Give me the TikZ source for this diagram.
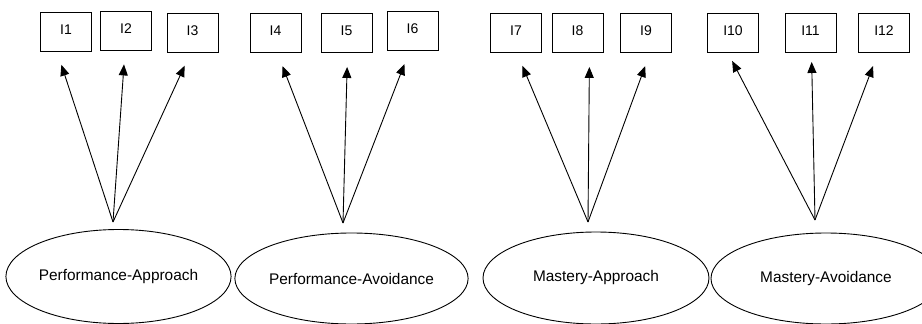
\documentclass[tikz,border=0pt]{standalone}
\usepackage{fontspec}
\setmainfont{Liberation Sans}
\usepackage{tikz}
\usetikzlibrary{shapes,arrows.meta,positioning}

\begin{document}
\begin{tikzpicture}[
    x=1pt, y=-1pt,
    box/.style={rectangle, draw, line width=0.9pt, minimum width=51pt, minimum height=39pt, inner sep=0pt, text depth=4pt, font=\fontsize{14}{16}\selectfont},
    factor/.style={ellipse, draw, line width=0.9pt, inner sep=0pt, font=\fontsize{15.4}{18}\selectfont},
    arr/.style={-{Triangle[length=11pt,width=9pt]}, line width=0.9pt, shorten >=14pt},
]
\useasboundingbox (0,0) rectangle (922,324);
\clip (0,0) rectangle (922,324);

% Indicators
\node[box] (i1) at (66,31.5) {I1};
\node[box] (i2) at (126,30.5) {I2};
\node[box] (i3) at (192.5,33) {I3};
\node[box] (i4) at (275.5,33) {I4};
\node[box] (i5) at (346.5,33) {I5};
\node[box] (i6) at (412.5,31) {I6};
\node[box] (i7) at (516,33) {I7};
\node[box] (i8) at (577.5,33) {I8};
\node[box] (i9) at (646,33) {I9};
\node[box] (i10) at (733,33) {I10};
\node[box] (i11) at (810.5,33) {I11};
\node[box] (i12) at (884,33) {I12};

% Factors
\node[factor, minimum width=217pt, minimum height=94pt] (pap) at (118.5,276.5) {Performance-Approach};
\node[factor, minimum width=227pt, minimum height=91pt] (pav) at (351.5,278.5) {Performance-Avoidance};
\node[factor, minimum width=226pt, minimum height=92pt] (map) at (596,278) {Mastery-Approach};
\node[factor, minimum width=230pt, minimum height=91pt] (mav) at (826,278.5) {Mastery-Avoidance};

% Arrow origins
\coordinate (papo) at (113,222);
\coordinate (pavo) at (343,223);
\coordinate (mapo) at (588,222);
\coordinate (mavo) at (815,220);

% Loadings
\draw[arr] (papo) -- ([xshift=-9pt]i1.south);
\draw[arr] (papo) -- ([xshift=-1pt]i2.south);
\draw[arr] (papo) -- ([xshift=-2pt]i3.south);
\draw[arr] (pavo) -- ([xshift=2pt]i4.south);
\draw[arr] (pavo) -- ([xshift=1pt]i5.south);
\draw[arr] (pavo) -- ([xshift=-3pt]i6.south);
\draw[arr] (mapo) -- ([xshift=1pt]i7.south);
\draw[arr] (mapo) -- ([xshift=12pt]i8.south);
\draw[arr] (mapo) -- ([xshift=4pt]i9.south);
\draw[arr, shorten >=9pt] (mavo) -- ([xshift=-5pt]i10.south);
\draw[arr, shorten >=9pt] (mavo) -- ([xshift=1pt]i11.south);
\draw[arr] (mavo) -- ([xshift=-6pt]i12.south);

\end{tikzpicture}
\end{document}
